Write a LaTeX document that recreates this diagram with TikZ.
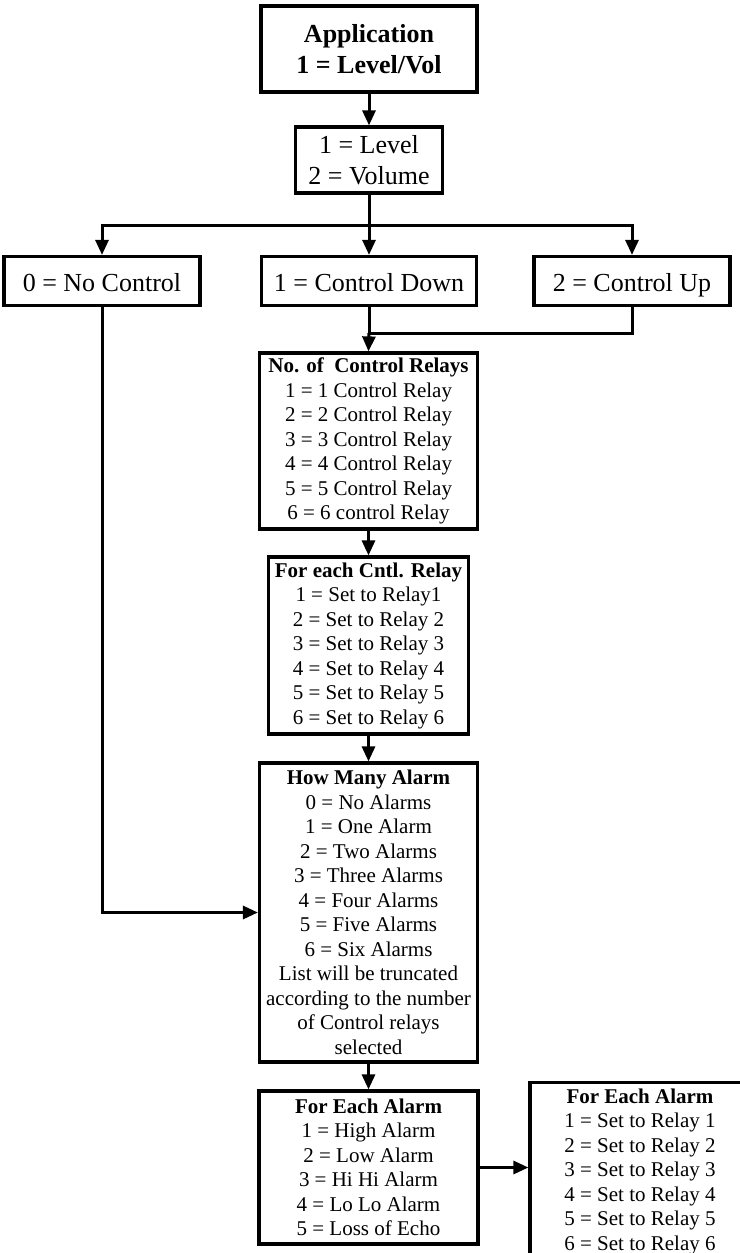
\documentclass[tikz,border=0pt]{standalone}
\usepackage{fontspec}
\setmainfont{Liberation Serif}
\usetikzlibrary{arrows.meta}
\begin{document}
\begin{tikzpicture}[x=1pt,y=-1pt,
  box/.style={draw, line width=3.2pt, inner sep=0pt, align=center, fill=white},
  big/.style={box, font=\fontsize{26}{31}\selectfont},
  row/.style={big, minimum height=49pt, text height=22pt, text depth=2pt},
  small/.style={box, font=\fontsize{21}{24.5}\selectfont},
  conn/.style={line width=3pt, -{Triangle[length=15pt,width=13pt]}},
  line/.style={line width=3pt}]
\useasboundingbox (0,0) rectangle (739,1253);
\node[big, minimum width=216pt, minimum height=86pt] (app) at (369,49) {\textbf{Application}\\\textbf{1 = Level/Vol}};
\node[big, minimum width=147pt, minimum height=66pt] (lv) at (369,160) {1 = Level\\2 = Volume};
\node[row, minimum width=196pt] (noc) at (102,281) {0 = No Control};
\node[row, minimum width=215pt] (cd) at (369,281) {1 = Control Down};
\node[row, minimum width=196pt] (cu) at (632,281) {2 = Control Up};
\node[small, minimum width=218pt, minimum height=176pt] (ncr) at (368.5,441) {\textbf{No. of\ \ Control Relays}\\1 = 1 Control Relay\\2 = 2 Control Relay\\3 = 3 Control Relay\\4 = 4 Control Relay\\5 = 5 Control Relay\\6 = 6 control Relay};
\node[small, minimum width=200pt, minimum height=177pt] (fec) at (368.5,645.5) {\textbf{For each Cntl. Relay}\\1 = Set to Relay1\\2 = Set to Relay 2\\3 = Set to Relay 3\\4 = Set to Relay 4\\5 = Set to Relay 5\\6 = Set to Relay 6};
\node[small, minimum width=218pt, minimum height=299pt] (hma) at (368.5,912.5) {\textbf{How Many Alarm}\\0 = No Alarms\\1 = One Alarm\\2 = Two Alarms\\3 = Three Alarms\\4 = Four Alarms\\5 = Five Alarms\\6 = Six Alarms\\List will be truncated\\according to the number\\of Control relays\\selected};
\node[small, minimum width=219pt, minimum height=153pt] (fea) at (368.5,1167.5) {\textbf{For Each Alarm}\\1 = High Alarm\\2 = Low Alarm\\3 = Hi Hi Alarm\\4 = Lo Lo Alarm\\5 = Loss of Echo};
\node[box, font=\fontsize{21}{24.5}\selectfont, minimum width=220pt, inner ysep=6pt, anchor=north] (rel) at (640,1081) {\textbf{For Each Alarm}\\1 = Set to Relay 1\\2 = Set to Relay 2\\3 = Set to Relay 3\\4 = Set to Relay 4\\5 = Set to Relay 5\\6 = Set to Relay 6\\[6pt]};
\coordinate (br) at (369,225);
\coordinate (jn) at (369,333);
\draw[conn] (app) -- (lv);
\draw[line] (lv.south) -- (br);
\draw[conn] (br) -- (cd.north);
\draw[conn] (br) -| (noc.north);
\draw[conn] (br) -| (cu.north);
\draw[line] (cd.south) -- (jn);
\draw[line] (cu.south) |- (jn);
\draw[conn] (jn) -- (ncr.north);
\draw[conn] (ncr) -- (fec);
\draw[conn] (fec) -- (hma);
\draw[conn] (hma) -- (fea);
\draw[conn] (noc.south) |- (hma.west);
\draw[conn] (fea.east) -- (fea.east -| rel.west);
\end{tikzpicture}
\end{document}
